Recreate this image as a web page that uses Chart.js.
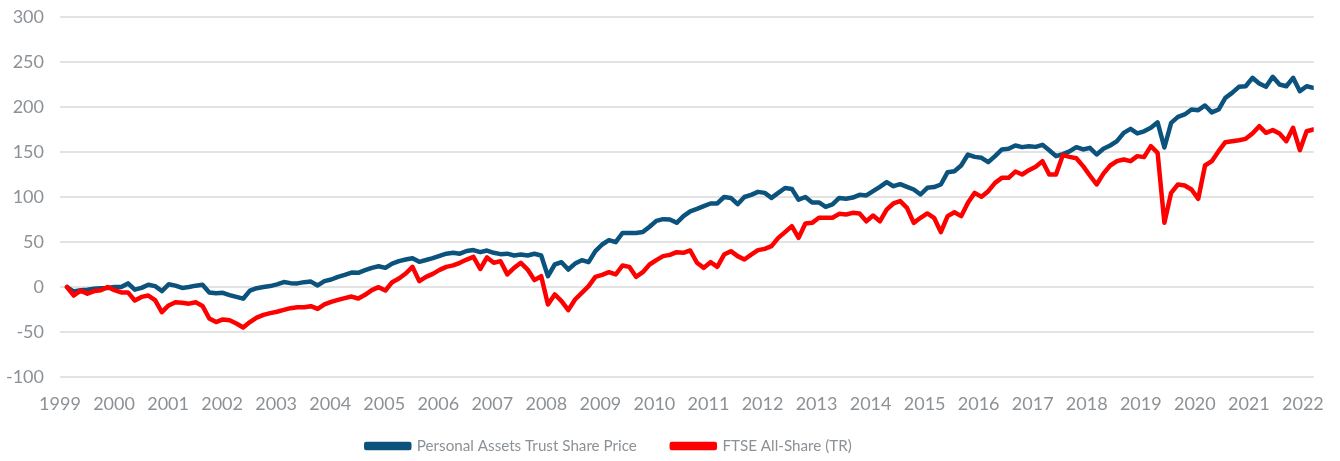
<!DOCTYPE html>
<html>
<head>
<meta charset="utf-8">
<script src="https://cdn.jsdelivr.net/npm/chart.js@4.4.1/dist/chart.umd.min.js"></script>
<style>
  html, body { margin: 0; padding: 0; background: #ffffff; }
  #wrap { width: 1340px; height: 461px; position: relative; }
</style>
</head>
<body>
<div id="wrap"><canvas id="c"></canvas></div>
<script>
// ---- data (rebased performance, %) ----
const START_YEAR = 1999.13;   // first observation (axis units = years)
const STEP_YEARS = 0.12535;   // spacing between observations
const yTicks = [-100, -50, 0, 50, 100, 150, 200, 250, 300];
const xTickYears = [1999,2000,2001,2002,2003,2004,2005,2006,2007,2008,2009,2010,2011,2012,2013,2014,2015,2016,2017,2018,2019,2020,2021,2022];
const seriesNames = ["Personal Assets Trust Share Price", "FTSE All-Share (TR)"];

const patSharePrice = [
  0,-5,-3.5,-3,-2,-1.3,-1,0,0,4,-3,-1,2.5,1,-4.5,3,1.5,-1,0,1.5,
  2.5,-6,-7,-6.5,-9,-11,-13,-4,-1.3,0,1,3,5.5,4.3,4,5.4,6,1.7,6.5,8.3,
  11.3,13.5,16,15.7,18.7,21.3,23,21.3,26,28.7,30.5,32,28,30,32,34.6,37,38,37,40,
  41,38.7,40.5,38,36.5,37,35,36,35,36.9,35,12,25,27.6,19.4,26,29.8,27.6,39.8,47.2,
  52,49.8,60,60,60,61,67,73.5,75.4,75,71.3,78.7,84,86.8,89.8,92.8,92.8,100,99,92,
  100,102.4,105.7,104.6,99,104.6,110,109,97,100,94,94,89,91.7,99,98,99.4,102.4,101.7,106.5,
  111.3,116.5,112,114.3,111.3,108.3,102.8,110.2,111,113.9,127.6,128.7,135,147.2,144.6,143.5,138.7,145.4,152.8,153.5,
  157.2,155.4,156.5,155.7,158,152,145.4,147.6,150.6,155.4,152.8,154.6,147.2,153.5,157.2,162,171.3,175.7,170.6,173,
  176.9,183,155,182.4,189,191.7,197.2,196.5,201.7,194,197.2,210.2,215.7,222.4,223.1,232.4,226.1,222.4,233.5,225,
  223.1,232.4,217.6,223.1,221.3
];

const ftseAllShare = [
  0,-9.5,-4,-7.5,-4.5,-3.5,0,-3.5,-6,-6,-15,-11,-9.5,-14.5,-28,-20.5,-17,-17.5,-18.5,-17,
  -21,-35,-39,-36,-37,-40.5,-45,-39,-34,-31,-29,-27.5,-25.5,-23.5,-22.4,-22.4,-21.3,-24.3,-19.4,-16.5,
  -14.3,-12.4,-10.6,-12.8,-8.7,-3.5,-0.2,-3.9,5.4,9.4,15,22.4,6.5,11.3,14.6,19,22.4,24,26.9,30.5,
  33.5,20,32.8,27,28.7,14,21.3,26.9,19.4,7.6,12,-19.4,-8.3,-15.7,-25.7,-13.9,-6.5,1,11.3,13.5,
  16.5,13.9,23.9,22.4,11.3,16.5,25,29.8,34.3,35.7,38.7,38,40.6,26.9,21.3,27.6,22.4,36,39.8,34.3,
  30.6,36,41,42.4,45.4,54.6,61,67.6,54.6,70.6,71.3,76.9,76.9,76.9,81.3,80.6,82.4,81.7,73,79.4,
  73,86,92.8,95.4,88,71.3,76.9,81.7,76.9,61,78.7,83,78.7,93.5,104.6,100.2,106.5,115.7,121.3,121.3,
  128.3,125,129.8,133.5,139.8,125,125,146.5,144.6,143.1,134.3,123.9,113.9,126,135,139.8,141.7,139.8,145.4,144.3,
  156.5,149,71.3,104.6,113.9,112.8,108.3,98,135,139.8,150.9,160.9,162,163.1,164.6,170.6,178.7,171.3,174.3,170.6,
  162,176.9,152,173.1,175
];

const BLUE = '#0b527c';
const RED = '#ff0000';
const TEXT = '#8c9196';
const GRID = '#e3e3e3';
const LEGEND_CENTER_X = 609;
const LEGEND_TOP = 403.5;

function toPoints(vals) {
  return vals.map((v, i) => ({ x: START_YEAR + i * STEP_YEARS, y: v }));
}

// place the legend where the reference places it
const legendShift = {
  id: 'legendShift',
  afterLayout(chart) {
    const lg = chart.legend;
    if (!lg) return;
    lg.left = 0;
    lg.right = LEGEND_CENTER_X * 2;
    lg.width = lg.right - lg.left;
    lg.top = LEGEND_TOP;
    lg.bottom = chart.height;
    lg.height = lg.bottom - lg.top;
  }
};

new Chart(document.getElementById('c'), {
  type: 'line',
  data: {
    datasets: [
      { label: seriesNames[1], data: toPoints(ftseAllShare), borderColor: RED, backgroundColor: RED,
        borderWidth: 4.5, pointRadius: 0, tension: 0, borderJoinStyle: 'round', borderCapStyle: 'round' },
      { label: seriesNames[0], data: toPoints(patSharePrice), borderColor: BLUE, backgroundColor: BLUE,
        borderWidth: 4.5, pointRadius: 0, tension: 0, borderJoinStyle: 'round', borderCapStyle: 'round' }
    ]
  },
  plugins: [legendShift],
  options: {
    responsive: true,
    maintainAspectRatio: false,
    animation: false,
    layout: { padding: { top: 0, right: 25, left: 0, bottom: 0 } },
    plugins: {
      tooltip: { enabled: false },
      legend: {
        position: 'bottom',
        reverse: true,
        maxHeight: 39,
        labels: {
          boxWidth: 43, boxHeight: 4, padding: 35, color: TEXT,
          font: { family: 'Lato', size: 15.2 }
        }
      }
    },
    scales: {
      x: {
        type: 'linear',
        min: 1999, max: 2022.2,
        grid: { display: false, drawTicks: false },
        border: { display: false },
        afterBuildTicks: (s) => { s.ticks = xTickYears.map(v => ({ value: v })); },
        afterFit: (s) => { s.height = 45; },
        ticks: {
          color: TEXT, font: { family: 'Lato', size: 18 }, padding: 16,
          autoSkip: false, maxRotation: 0, includeBounds: false,
          callback: (v) => String(v)
        }
      },
      y: {
        min: -100, max: 300,
        afterBuildTicks: (s) => { s.ticks = yTicks.map(v => ({ value: v })); },
        afterFit: (s) => { s.width = 60; s.paddingTop = 17; s.paddingBottom = 0; },
        grid: { color: GRID, lineWidth: 2, drawTicks: false },
        border: { display: false },
        ticks: { color: TEXT, font: { family: 'Lato', size: 18 }, padding: 16 }
      }
    }
  }
});
</script>
</body>
</html>
